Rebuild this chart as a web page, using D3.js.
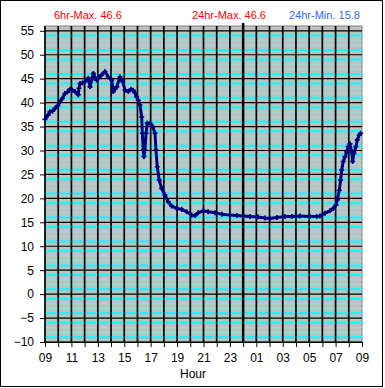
<!DOCTYPE html>
<html>
<head>
<meta charset="utf-8">
<script src="https://cdn.jsdelivr.net/npm/d3@7"></script>
<style>
  body { margin: 0; background: #fff; }
  svg { display: block; font-family: "Liberation Sans", Arial, sans-serif; }
</style>
</head>
<body>
<svg id="chart" width="385" height="388"></svg>
<script>
// hours since 09:00 and temperature readings
const hours = [0.00, 0.23, 0.38, 0.57, 0.76, 0.95, 1.14, 1.32, 1.51, 1.70, 1.89, 2.08, 2.27, 2.52, 2.57, 2.65,
  2.84, 3.03, 3.28, 3.41, 3.54, 3.66, 3.91, 4.09, 4.29, 4.54, 4.79, 5.05, 5.17, 5.30, 5.43, 5.68, 5.88,
  6.06, 6.31, 6.51, 6.68, 6.81, 6.94, 7.06, 7.19, 7.32, 7.37, 7.44, 7.49, 7.57, 7.65, 7.74, 7.95, 8.15,
  8.33, 8.40, 8.50, 8.65, 8.83, 9.08, 9.33, 9.59, 9.97, 10.35, 10.73, 11.11, 11.36, 11.60, 11.98, 12.36,
  12.87, 13.40, 14.00, 14.53, 14.99, 15.52, 16.12, 16.65, 17.03, 17.56, 18.17, 18.70, 19.30, 20.06, 20.57,
  20.82, 21.20, 21.57, 21.82, 22.03, 22.13, 22.28, 22.38, 22.46, 22.58, 22.71, 22.84, 22.96, 23.09, 23.22,
  23.29, 23.39, 23.54, 23.64, 23.79, 23.90];
const temps = [36.5, 37.4, 38.1, 38.2, 38.8, 39.3, 40.2, 40.9, 41.9, 42.2, 42.8, 42.6, 42.3, 41.6, 43.0, 44.0,
  44.1, 44.4, 45.1, 43.3, 44.8, 46.1, 44.7, 45.3, 45.8, 46.5, 45.4, 44.7, 42.3, 42.8, 43.3, 45.4, 44.4,
  42.6, 42.3, 42.8, 42.6, 42.0, 41.2, 40.5, 39.5, 37.0, 33.6, 30.1, 28.7, 30.1, 33.6, 35.7, 35.7, 35.0,
  33.6, 30.1, 26.6, 23.8, 22.1, 20.7, 19.3, 18.4, 17.9, 17.7, 17.2, 16.5, 16.4, 17.0, 17.4, 17.2,
  17.0, 16.7, 16.5, 16.4, 16.3, 16.2, 16.1, 15.9, 15.8, 16.0, 16.2, 16.2, 16.3, 16.2, 16.2,
  16.3, 16.9, 17.4, 17.9, 18.6, 19.7, 21.7, 23.8, 25.9, 27.7, 28.7, 29.7, 30.8, 31.4, 29.7,
  27.7, 29.4, 30.8, 32.2, 33.2, 33.6];

const yTicks = d3.range(-10, 56, 5);
const xTicks = d3.range(0, 25, 1);
const startHour = 9;
const headers = [
  { text: "6hr-Max. 46.6", x: 54, color: "#ff0000" },
  { text: "24hr-Max. 46.6", x: 192, color: "#ff0000" },
  { text: "24hr-Min. 15.8", x: 289, color: "#3366ff" }
];

const svg = d3.select("#chart");
const x = d3.scaleLinear().domain([0, 24]).range([45, 362]);
const y = d3.scaleLinear().domain([-10, 56]).range([342, 26]);

// outer frame
svg.append("rect").attr("x", 0.5).attr("y", 0.5).attr("width", 382).attr("height", 386)
  .attr("fill", "#fff").attr("stroke", "#000");

// plot background
svg.append("rect").attr("x", x(0)).attr("y", y(56)).attr("width", x(24) - x(0)).attr("height", y(-10) - y(56))
  .attr("fill", "#c0c0c0").attr("stroke", "#808080");

// minor cyan lines every degree
const minor = d3.range(-10, 56).filter(v => v % 5 !== 0);
const bright = d => { const m = ((d % 5) + 5) % 5; return m === 1 || m === 4; };
svg.append("g").selectAll("line").data(minor).join("line")
  .attr("x1", x(0)).attr("x2", x(24))
  .attr("y1", d => y(d)).attr("y2", d => y(d))
  .attr("stroke", d => bright(d) ? "#00ffff" : "#8fe3e3")
  .attr("stroke-width", d => bright(d) ? 2 : 1);

// major horizontal lines
svg.append("g").selectAll("line").data(yTicks).join("line")
  .attr("x1", x(0)).attr("x2", x(24))
  .attr("y1", d => y(d)).attr("y2", d => y(d))
  .attr("stroke", "#000").attr("stroke-width", 1.2);

// hourly vertical lines
svg.append("g").selectAll("line").data(xTicks.slice(0, 24)).join("line")
  .attr("x1", d => x(d)).attr("x2", d => x(d))
  .attr("y1", y(56)).attr("y2", y(-10))
  .attr("stroke", "#000").attr("stroke-width", 1.7);

// midnight marker
svg.append("line").attr("x1", x(15)).attr("x2", x(15)).attr("y1", 23).attr("y2", y(-10))
  .attr("stroke", "#000").attr("stroke-width", 2.5);

// y axis
const yAxis = svg.append("g").attr("transform", `translate(${x(0)},0)`)
  .call(d3.axisLeft(y).tickValues(yTicks).tickSize(5).tickPadding(6));
yAxis.select(".domain").remove();
yAxis.selectAll("text").attr("font-size", 12).attr("font-family", "Liberation Sans, Arial, sans-serif").attr("fill", "#000");

// x axis
const xAxis = svg.append("g").attr("transform", `translate(0,${y(-10)})`)
  .call(d3.axisBottom(x).tickValues(xTicks).tickSize(5).tickPadding(6)
    .tickFormat(d => d % 2 === 0 ? String((startHour + d) % 24).padStart(2, "0") : ""));
xAxis.select(".domain").attr("stroke", "#000");
xAxis.selectAll("text").attr("font-size", 12).attr("font-family", "Liberation Sans, Arial, sans-serif").attr("fill", "#000");

svg.append("text").attr("x", 193).attr("y", 378).attr("text-anchor", "middle")
  .attr("font-size", 12).text("Hour");

// header texts
svg.append("g").selectAll("text").data(headers).join("text")
  .attr("x", d => d.x).attr("y", 19).attr("font-size", 11)
  .attr("fill", d => d.color).text(d => d.text);

// data
const pts = hours.map((h, i) => [h, temps[i]]);
svg.append("path").datum(pts)
  .attr("fill", "none").attr("stroke", "#000080").attr("stroke-width", 3).attr("stroke-linejoin", "round")
  .attr("d", d3.line().x(d => x(d[0])).y(d => y(d[1])));
svg.append("g").selectAll("path").data(pts).join("path")
  .attr("transform", d => `translate(${x(d[0])},${y(d[1])})`)
  .attr("d", d3.symbol(d3.symbolCross, 14))
  .attr("fill", "#000080");
</script>
</body>
</html>
